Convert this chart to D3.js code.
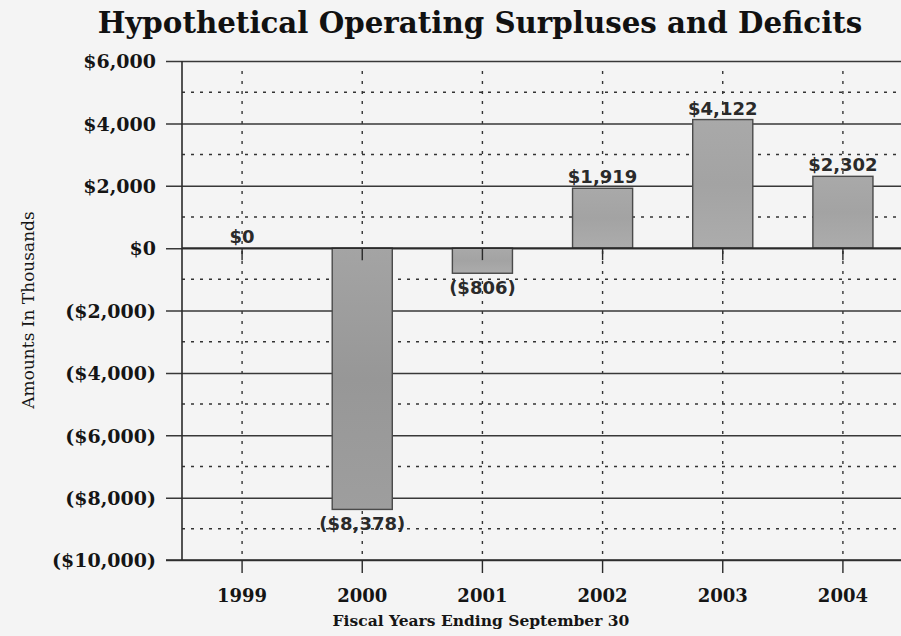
<!DOCTYPE html>
<html>
<head>
<meta charset="utf-8">
<script src="https://cdn.jsdelivr.net/npm/d3@7"></script>
<style>
  html, body { margin: 0; padding: 0; background: #f3f3f3; }
  svg { display: block; }
</style>
</head>
<body>
<svg id="chart" width="901" height="636"></svg>
<script>
// Fiscal years and operating result (thousands of dollars)
const years = ["1999", "2000", "2001", "2002", "2003", "2004"];
const values = [0, -8378, -806, 1919, 4122, 2302];
const valueLabels = ["$0", "($8,378)", "($806)", "$1,919", "$4,122", "$2,302"];
const majorTicks = [6000, 4000, 2000, 0, -2000, -4000, -6000, -8000, -10000];
const majorTickLabels = ["$6,000", "$4,000", "$2,000", "$0", "($2,000)", "($4,000)", "($6,000)", "($8,000)", "($10,000)"];
const minorTicks = [5000, 3000, 1000, -1000, -3000, -5000, -7000, -9000];

const svg = d3.select("#chart");
const W = 901, H = 636;
const plot = { left: 182, right: 903, top: 61, bottom: 560 };
const serif = "'DejaVu Serif', serif";
const sans = "'DejaVu Sans', sans-serif";

svg.append("rect").attr("width", W).attr("height", H).attr("fill", "#f4f4f4");

const x = d3.scaleBand().domain(years).range([plot.left, plot.right]).padding(0);
const y = d3.scaleLinear().domain([-10000, 6000]).range([plot.bottom, plot.top]);
const barW = x.bandwidth() * 0.5;
const cx = d => x(d) + x.bandwidth() / 2;

const defs = svg.append("defs");
const grad = defs.append("linearGradient").attr("id", "barFill")
  .attr("x1", 0).attr("y1", 0).attr("x2", 0).attr("y2", 1);
grad.append("stop").attr("offset", "0%").attr("stop-color", "#a9a9a9");
grad.append("stop").attr("offset", "50%").attr("stop-color", "#a3a3a3");
grad.append("stop").attr("offset", "100%").attr("stop-color", "#acacac");
const gradDeep = defs.append("linearGradient").attr("id", "barFillDeep")
  .attr("x1", 0).attr("y1", 0).attr("x2", 0).attr("y2", 1);
gradDeep.append("stop").attr("offset", "0%").attr("stop-color", "#a4a4a4");
gradDeep.append("stop").attr("offset", "50%").attr("stop-color", "#979797");
gradDeep.append("stop").attr("offset", "100%").attr("stop-color", "#9e9e9e");

const gridColor = "#333";

// Minor dotted horizontal gridlines
svg.append("g").selectAll("line").data(minorTicks).join("line")
  .attr("x1", plot.left).attr("x2", W)
  .attr("y1", d => y(d)).attr("y2", d => y(d))
  .attr("stroke", gridColor).attr("stroke-width", 1.4)
  .attr("stroke-dasharray", "3,6");

// Dotted vertical gridlines at category centres
svg.append("g").selectAll("line").data(years).join("line")
  .attr("x1", cx).attr("x2", cx)
  .attr("y1", plot.top + 10).attr("y2", plot.bottom)
  .attr("stroke", gridColor).attr("stroke-width", 1.4)
  .attr("stroke-dasharray", "3,7");

// Major solid gridlines with ticks on the left axis
const yAxis = d3.axisLeft(y).tickValues(majorTicks)
  .tickFormat((d, i) => majorTickLabels[i])
  .tickSize(-(W - plot.left)).tickSizeOuter(0);
const gy = svg.append("g").attr("transform", `translate(${plot.left},0)`).call(yAxis);
gy.select(".domain").remove();
gy.selectAll(".tick line")
  .attr("x1", -16).attr("x2", W - plot.left)
  .attr("stroke", "#383838").attr("stroke-width", 1.5);
gy.selectAll(".tick text")
  .attr("x", -26).attr("dy", "0.36em")
  .attr("fill", "#151515")
  .style("font-family", serif)
  .style("font-weight", "bold").style("font-size", "19px");

// Left axis line
svg.append("line")
  .attr("x1", plot.left).attr("x2", plot.left)
  .attr("y1", plot.top).attr("y2", plot.bottom)
  .attr("stroke", "#2a2a2a").attr("stroke-width", 1.6);

// Bars
svg.append("g").selectAll("rect").data(years).join("rect")
  .attr("x", d => cx(d) - barW / 2)
  .attr("width", barW)
  .attr("y", (d, i) => y(Math.max(0, values[i])))
  .attr("height", (d, i) => Math.abs(y(values[i]) - y(0)))
  .attr("fill", (d, i) => values[i] < -5000 ? "url(#barFillDeep)" : "url(#barFill)")
  .attr("stroke", "#4a4a4a").attr("stroke-width", 1.4);

// Zero line with downward ticks
svg.append("line")
  .attr("x1", plot.left).attr("x2", W)
  .attr("y1", y(0)).attr("y2", y(0))
  .attr("stroke", "#2a2a2a").attr("stroke-width", 1.6);
const xZero = d3.axisBottom(x).tickSize(12).tickSizeOuter(0).tickFormat("");
const gz = svg.append("g").attr("transform", `translate(0,${y(0)})`).call(xZero);
gz.select(".domain").remove();
gz.selectAll(".tick line").attr("stroke", "#2a2a2a").attr("stroke-width", 1.4);

// Bottom category axis
const xAxis = d3.axisBottom(x).tickSize(13).tickSizeOuter(0).tickPadding(14);
const gx = svg.append("g").attr("transform", `translate(0,${plot.bottom})`).call(xAxis);
gx.select(".domain").attr("d", `M${plot.left - 16},0H${W}`)
  .attr("stroke", "#2a2a2a").attr("stroke-width", 1.7);
gx.selectAll(".tick line").attr("stroke", "#2a2a2a").attr("stroke-width", 1.4);
gx.selectAll(".tick text")
  .attr("y", 42).attr("dy", 0)
  .attr("fill", "#151515")
  .style("font-family", serif)
  .style("font-weight", "bold").style("font-size", "18px");

// Value labels
svg.append("g").selectAll("text").data(years).join("text")
  .attr("x", cx)
  .attr("y", (d, i) => values[i] < 0 ? y(values[i]) + 21 : y(values[i]) - 5)
  .attr("text-anchor", "middle")
  .attr("fill", "#2a2a2a")
  .style("font-family", sans)
  .style("font-weight", "bold").style("font-size", "18px")
  .text((d, i) => valueLabels[i]);

// Title
svg.append("text")
  .attr("x", 480).attr("y", 33)
  .attr("text-anchor", "middle")
  .attr("fill", "#111")
  .style("font-family", serif)
  .style("font-weight", "bold").style("font-size", "29.3px")
  .text("Hypothetical Operating Surpluses and Deficits");

// Axis titles
svg.append("text")
  .attr("x", 481).attr("y", 626)
  .attr("text-anchor", "middle")
  .attr("fill", "#151515")
  .style("font-family", serif)
  .style("font-weight", "bold").style("font-size", "15.5px")
  .text("Fiscal Years Ending September 30");

svg.append("text")
  .attr("transform", "translate(34,310) rotate(-90)")
  .attr("text-anchor", "middle")
  .attr("fill", "#151515")
  .style("font-family", serif)
  .style("font-size", "17px")
  .text("Amounts In Thousands");
</script>
</body>
</html>
